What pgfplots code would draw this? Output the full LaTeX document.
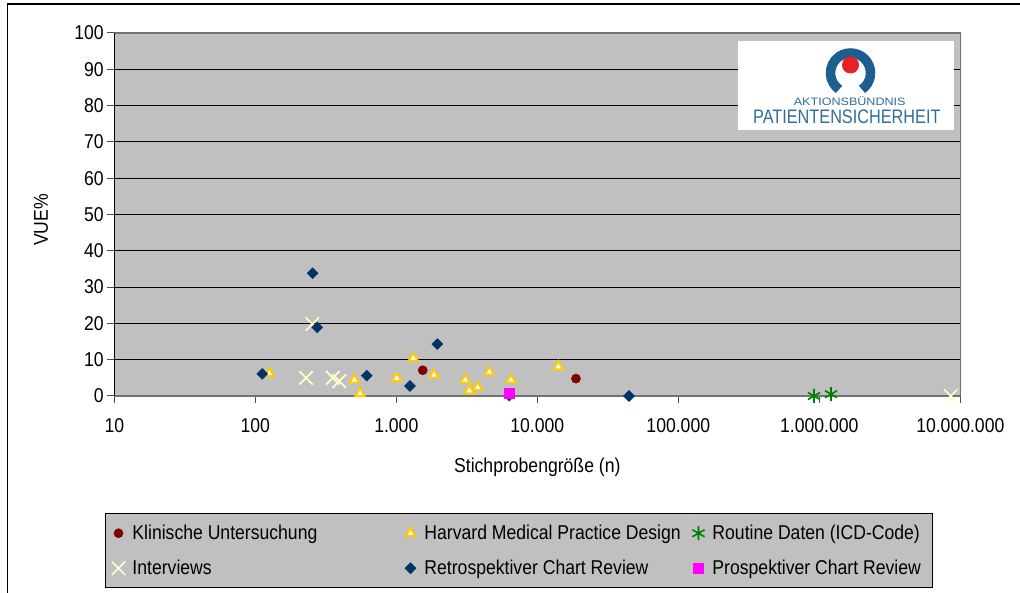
\documentclass[border=0pt]{standalone}
\usepackage{pgfplots}
\pgfplotsset{compat=1.18}
\usepackage{fontspec}
\usepackage{graphicx}
\setmainfont{Liberation Sans}[FakeStretch=0.88]
\newfontfamily\logofont{Liberation Sans}
\definecolor{plotbg}{HTML}{C0C0C0}
\definecolor{klin}{HTML}{800000}
\definecolor{harv}{HTML}{FFCC00}
\definecolor{rout}{HTML}{008000}
\definecolor{intv}{HTML}{FFFFCC}
\definecolor{retro}{HTML}{003366}
\definecolor{prosp}{HTML}{FF00FF}
\definecolor{logoblue}{HTML}{1C5E8E}
\definecolor{logotext}{HTML}{2F6E9C}
\definecolor{logored}{HTML}{E8202A}
\begin{document}
\begin{tikzpicture}[x=1pt,y=1pt]
\path[use as bounding box] (0,0) rectangle (1020,593);
\draw[line width=1.3pt] (7.5,0) -- (7.5,589) -- (1020,589);
\begin{axis}[
  at={(114.3pt,197pt)}, anchor=south west,
  scale only axis, width=846pt, height=363pt,
  xmode=log, xmin=10, xmax=1e7, ymin=0, ymax=100,
  xtick={10,100,1000,10000,100000,1000000,10000000},
  xticklabels={10,100,1.000,10.000,100.000,1.000.000,10.000.000},
  xminorticks=false,
  ytick={0,10,...,100},
  /pgf/number format/assume math mode=true,
  ymajorgrids, major grid style={black, line width=1pt},
  axis background/.style={fill=plotbg},
  axis line style={draw=black!55, line width=1.2pt},
  tick align=outside, major tick length=7pt,
  tick style={black!70, line width=1pt},
  xtick pos=left, ytick pos=left,
  tick label style={font=\fontsize{20}{24}\selectfont},
  xticklabel style={yshift=-12pt},
  xlabel={Stichprobengröße (n)},
  ylabel={VUE\%},
  every axis x label/.style={at={(axis description cs:0.5,-0.2121)}, anchor=base, font=\fontsize{20}{24}\selectfont},
  every axis y label/.style={at={(axis description cs:-0.0784,0.485)}, rotate=90, anchor=base, font=\fontsize{20}{24}\selectfont},
  clip=false,
  legend columns=3,
  legend cell align=left,
  legend style={
    at={(axis description cs:-0.011,-0.3223)}, anchor=north west,
    fill=plotbg, draw=black, line width=1pt,
    font=\fontsize{20}{24}\selectfont,
    inner xsep=6pt, inner ysep=9.5pt,
    row sep=14.5pt, column sep=0pt,
    nodes={inner sep=2pt, text height=14.5pt, text depth=2pt},
  },
  legend image code/.code={\path[draw=none, fill=none] (-7pt,-5pt) rectangle (12pt,5pt); \draw[#1] plot coordinates {(0pt,0pt)};},
]
\addplot[only marks, mark=*, mark size=4.6pt, mark options={draw=klin, fill=klin, line width=0.4pt}]
  coordinates {(1540,7.1) (18800,4.8)};
\addlegendentry{\makebox[269pt][l]{Klinische Untersuchung}}
\addplot[only marks, mark=triangle*, mark size=5.4pt, mark options={draw=harv, fill=white, line width=2pt}]
  coordinates {(126,6.2) (504,4.4) (553,0.7) (1006,4.9) (1320,10.4) (1851,5.8) (3085,4.4) (3294,1.5) (3779,2.4) (4567,6.6) (6506,4.4) (14090,8.1)};
\addlegendentry{\makebox[265pt][l]{Harvard Medical Practice Design}}
\addplot[only marks, mark=asterisk, mark size=7pt, mark options={draw=rout, line width=1.6pt}]
  coordinates {(917000,0) (1210000,0.5)};
\addlegendentry{\makebox[212pt][l]{Routine Daten (ICD-Code)}}
\addplot[only marks, mark=x, mark size=9.5pt, mark options={draw=intv, line width=1.7pt}]
  coordinates {(229,5.0) (254,19.8) (354,5.0) (394,4.1) (8550000,0)};
\addlegendentry{\makebox[269pt][l]{Interviews}}
\addplot[only marks, mark=square*, mark size=3.9pt, mark options={rotate=45, draw=retro, fill=retro, line width=0.4pt}]
  coordinates {(112,6.1) (255,33.8) (275,18.9) (617,5.6) (1250,2.75) (1954,14.3) (6330,0.1) (44700,0)};
\addlegendentry{\makebox[265pt][l]{Retrospektiver Chart Review}}
\addplot[only marks, mark=square*, mark size=4.8pt, mark options={draw=prosp, fill=prosp, line width=0.4pt}]
  coordinates {(6300,0.7)};
\addlegendentry{\makebox[212pt][l]{Prospektiver Chart Review}}
\draw[black, line width=1.2pt] (axis description cs:0,0) -- (axis description cs:0,1);
\end{axis}
% logo
\fill[white] (738,463) rectangle (954,552);
\draw[logoblue, line width=9.5pt] (850.5,520) ++(-55:20) arc[start angle=-55, end angle=235, radius=20];
\fill[logored] (850.5,528) circle (8.5);
\node[anchor=base, inner sep=0pt, text=logotext] at (849.7,487) {\scalebox{1.17}[1]{\logofont\fontsize{10.75}{12}\selectfont AKTIONSBÜNDNIS}};
\node[anchor=base, inner sep=0pt, text=logotext] at (846.8,469) {\scalebox{0.834}[1]{\logofont\fontsize{19.5}{22}\selectfont PATIENTENSICHERHEIT}};
\end{tikzpicture}
\end{document}
